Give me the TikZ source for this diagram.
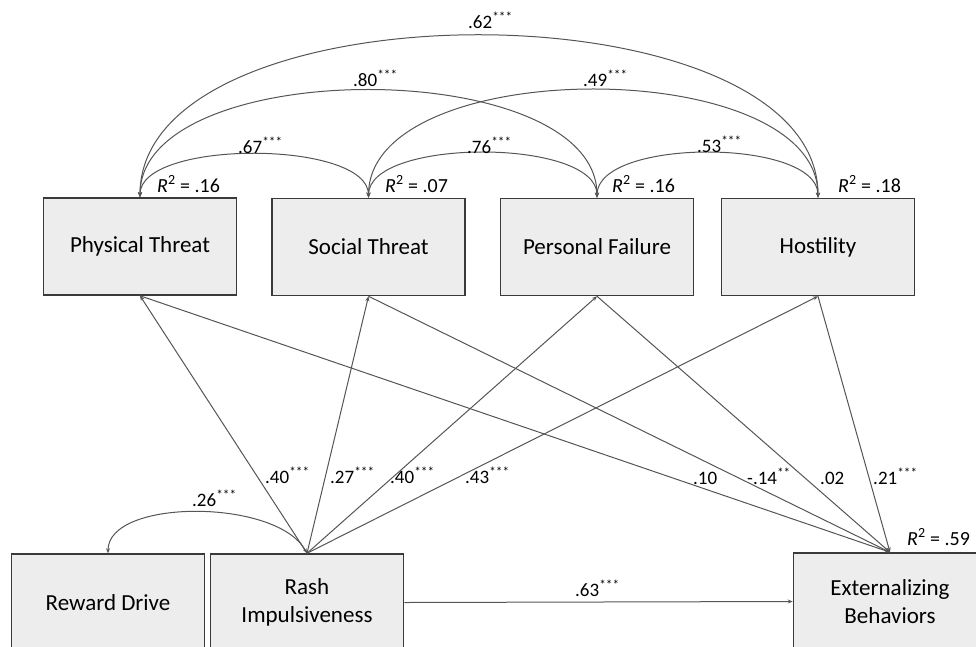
\documentclass[tikz,border=0pt]{standalone}
\usepackage{fontspec}
\setmainfont{Carlito}
\usetikzlibrary{arrows.meta}
\definecolor{boxfill}{HTML}{EDEDED}
\definecolor{boxline}{HTML}{3A3A3A}
\definecolor{linec}{HTML}{555555}
\begin{document}
\begin{tikzpicture}[x=1pt,y=-1pt,
  box/.style={draw=boxline, fill=boxfill, line width=1.5pt, minimum width=193pt,
    minimum height=97pt, inner sep=0pt, align=center,
    font=\fontsize{23}{28}\selectfont},
  lbl/.style={anchor=base west, inner sep=0pt, font=\fontsize{19}{22}\selectfont},
  rsq/.style={anchor=base west, inner sep=0pt, font=\fontsize{20}{22}\selectfont},
  tip/.tip={Stealth[length=5pt,width=4pt]},
  pathc/.style={draw=linec, line width=1pt, -tip},
  cov/.style={draw=linec, line width=1pt, tip-tip},
]
\useasboundingbox (0,0) rectangle (976,646);

% boxes
\node[box] (P) at (140,246.5) {Physical Threat};
\node[box] (S) at (368.5,247) {Social Threat};
\node[box] (F) at (597,247) {Personal Failure};
\node[box] (H) at (818,247) {Hostility};
\node[box] (RD) at (108,602.5) {Reward Drive};
\node[box] (RI) at (307,602.5) {Rash\\Impulsiveness};
\node[box] (EB) at (890,601.5) {Externalizing\\Behaviors};

% covariances among mediators
\draw[cov] (P.north) .. controls +(0,-216) and +(0,-216) .. (H.north);
\draw[cov] (P.north) .. controls +(0,-143) and +(0,-143) .. (F.north);
\draw[cov] (S.north) .. controls +(0,-144) and +(0,-144) .. (H.north);
\draw[cov] (P.north) .. controls +(0,-58) and +(0,-58) .. (S.north);
\draw[cov] (S.north) .. controls +(0,-60) and +(0,-60) .. (F.north);
\draw[cov] (F.north) .. controls +(0,-60) and +(0,-60) .. (H.north);

% covariance reward drive - rash impulsiveness
\draw[cov] (RI.north) .. controls +(-30,-55) and +(0,-55) .. (RD.north);

% paths from rash impulsiveness
\draw[pathc] (RI.north) -- (P.south);
\draw[pathc] (RI.north) -- (S.south);
\draw[pathc] (RI.north) -- (F.south);
\draw[pathc] (RI.north) -- (H.south);
\draw[pathc] (RI.east) -- (EB.west);

% paths to externalizing
\draw[pathc] (P.south) -- (EB.north);
\draw[pathc] (S.south) -- (EB.north);
\draw[pathc] (F.south) -- (EB.north);
\draw[pathc] (H.south) -- (EB.north);

% covariance labels
\node[lbl] (l62) at (468,28) {.62\textsuperscript{***}};
\node[lbl] (l80) at (353,86) {.80\textsuperscript{***}};
\node[lbl] (l49) at (583,86) {.49\textsuperscript{***}};
\node[lbl] (l67) at (238,153) {.67\textsuperscript{***}};
\node[lbl] (l76) at (467,153) {.76\textsuperscript{***}};
\node[lbl] (l53) at (697,152) {.53\textsuperscript{***}};
\node[lbl] (l26) at (192,506) {.26\textsuperscript{***}};

% path labels
\node[lbl] (a1) at (265,483) {.40\textsuperscript{***}};
\node[lbl] (a2) at (330,483) {.27\textsuperscript{***}};
\node[lbl] (a3) at (390,483) {.40\textsuperscript{***}};
\node[lbl] (a4) at (465,483) {.43\textsuperscript{***}};
\node[lbl] (b1) at (693,484) {.10};
\node[lbl] (b2) at (747,484) {-.14\textsuperscript{**}};
\node[lbl] (b3) at (820,484) {.02};
\node[lbl] (b4) at (873,484) {.21\textsuperscript{***}};
\node[lbl] (c1) at (575,596) {.63\textsuperscript{***}};

% R-squared labels
\node[rsq] (r1) at (157,192) {\textit{R}\textsuperscript{2} = .16};
\node[rsq] (r2) at (385,192) {\textit{R}\textsuperscript{2} = .07};
\node[rsq] (r3) at (612,192) {\textit{R}\textsuperscript{2} = .16};
\node[rsq] (r4) at (838,192) {\textit{R}\textsuperscript{2} = .18};
\node[rsq] (r5) at (907,545) {\textit{R}\textsuperscript{2} = .59};
\end{tikzpicture}
\end{document}
